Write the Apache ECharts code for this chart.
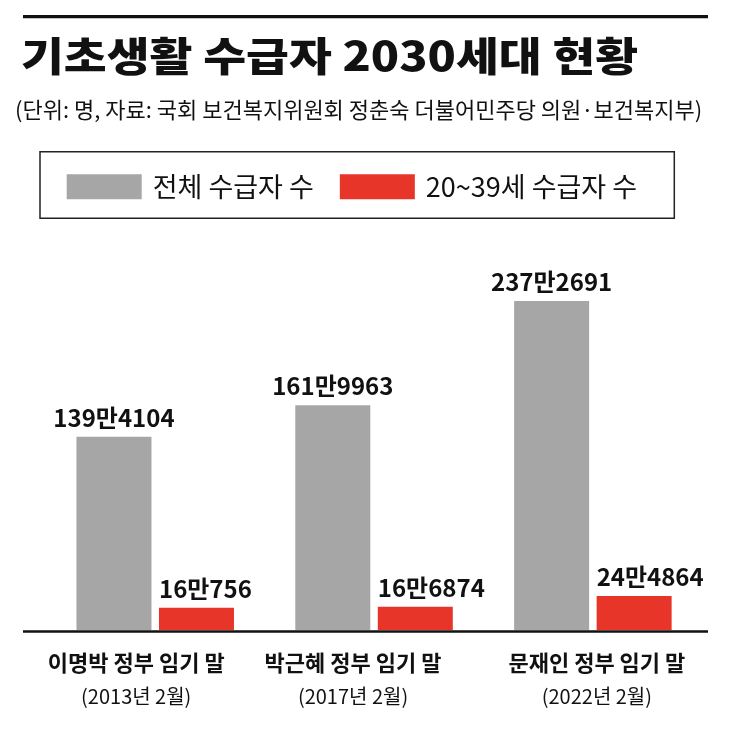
<!DOCTYPE html>
<html>
<head>
<meta charset="utf-8">
<script src="https://cdn.jsdelivr.net/npm/echarts@6/dist/echarts.min.js"></script>
<style>
html,body{margin:0;padding:0;background:#fff;}
#chart{width:736px;height:750px;}
</style>
</head>
<body>
<div id="chart"></div>
<script>
var titleText = '기초생활 수급자 2030세대 현황';
var subtitleText = '(단위: 명, 자료: 국회 보건복지위원회 정춘숙 더불어민주당 의원·보건복지부)';
var seriesNames = ['전체 수급자 수', '20~39세 수급자 수'];
var categoryNames = ['이명박 정부 임기 말', '박근혜 정부 임기 말', '문재인 정부 임기 말'];
var categoryDates = ['(2013년 2월)', '(2017년 2월)', '(2022년 2월)'];
var totalValues = [1394104, 1619963, 2372691];
var youthValues = [160756, 166874, 244864];

var FONT = '"Noto Sans CJK KR", "Noto Sans", sans-serif';
var labelPads = [[0, 38, 0, 0], [0, 42, 0, 0], [0, 0, 0, 8]];

function manFormat(v) {
  var man = Math.floor(v / 10000);
  var rest = v % 10000;
  return man + '만' + rest;
}

var chart = echarts.init(document.getElementById('chart'));
var option = {
  backgroundColor: '#ffffff',
  animation: false,
  title: [
    {
      text: subtitleText, left: 15, top: 99, padding: 0,
      textStyle: {fontFamily: FONT, fontSize: 22, fontWeight: 'normal', color: '#111'}
    }
  ],
  legend: {
    left: 66.7, top: 173.3, padding: 0,
    itemWidth: 75, itemHeight: 25, itemGap: 26,
    icon: 'rect',
    data: seriesNames,
    textStyle: {fontFamily: FONT, fontSize: 27, color: '#111', padding: [0, 0, 0, 6]}
  },
  grid: {left: 45.8, right: 33.7, top: 214, bottom: 120, containLabel: false},
  xAxis: {
    type: 'category',
    data: categoryNames.map(function (n, i) {
      return {value: n, textStyle: {padding: labelPads[i]}};
    }),
    axisLine: {show: false},
    axisTick: {show: false},
    axisLabel: {
      margin: 15.5,
      interval: 0,
      formatter: function (v, i) {
        return '{a|' + v + '}\n{b|' + categoryDates[i] + '}';
      },
      rich: {
        a: {fontFamily: FONT, fontSize: 22, fontWeight: 'bold', color: '#111', lineHeight: 34},
        b: {fontFamily: FONT, fontSize: 20, color: '#111', lineHeight: 34}
      }
    }
  },
  yAxis: {
    type: 'value', min: 0, max: 3000000, show: false,
    splitLine: {show: false}
  },
  series: [
    {
      name: seriesNames[0], type: 'bar', data: totalValues,
      barWidth: 75, barGap: '10%',
      itemStyle: {color: '#a6a6a6'},
      label: {
        show: true, position: 'top', distance: 7,
        fontFamily: FONT, fontSize: 24, fontWeight: 'bold', color: '#111',
        formatter: function (p) { return manFormat(p.value); }
      }
    },
    {
      name: seriesNames[1], type: 'bar', data: youthValues,
      barWidth: 75,
      itemStyle: {color: '#e8352a'},
      label: {
        show: true, position: [0, -7], align: 'left', verticalAlign: 'bottom',
        fontFamily: FONT, fontSize: 24, fontWeight: 'bold', color: '#111',
        formatter: function (p) { return manFormat(p.value); }
      }
    }
  ],
  graphic: [
    {type: 'line', shape: {x1: 23, y1: 16.6, x2: 708, y2: 16.6}, style: {stroke: '#111', lineWidth: 3.4}},
    {
      type: 'text', x: 21, y: 36, scaleX: 1.165, scaleY: 1,
      style: {
        text: titleText, fontFamily: FONT, fontSize: 40, fontWeight: 900,
        fill: '#111', textAlign: 'left', textVerticalAlign: 'top'
      }
    },
    {type: 'rect', shape: {x: 40, y: 151.7, width: 634.3, height: 66.6}, style: {fill: 'none', stroke: '#222', lineWidth: 1.5}},
    {type: 'line', shape: {x1: 23, y1: 631.5, x2: 708, y2: 631.5}, style: {stroke: '#111', lineWidth: 2.6}, z: 10}
  ]
};
chart.setOption(option);
</script>
</body>
</html>
